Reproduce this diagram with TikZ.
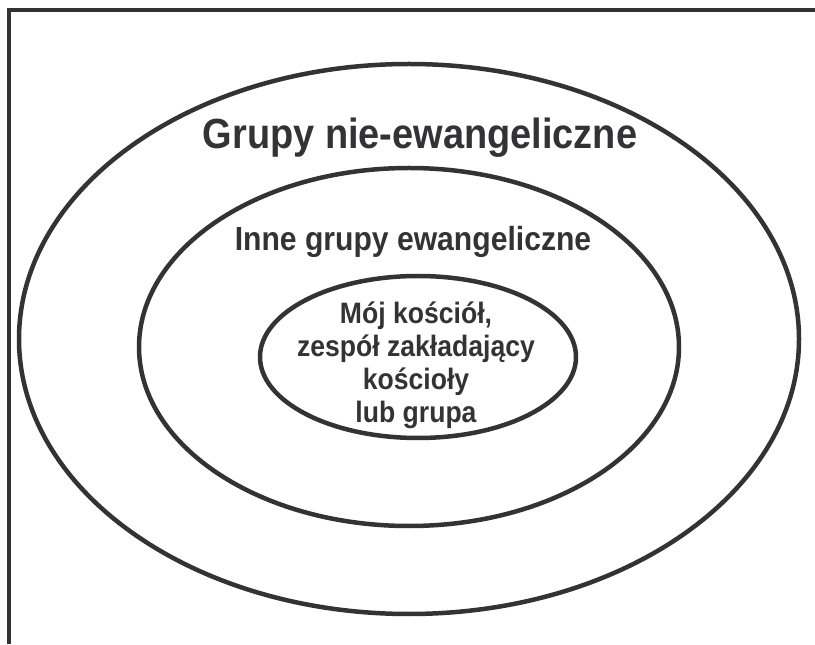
\documentclass[tikz,border=0pt]{standalone}
\usepackage{fontspec}
\setmainfont{Liberation Sans}
\newfontfamily\narrowsans[FakeStretch=0.9]{Liberation Sans}
\definecolor{ink}{HTML}{333336}
\tikzset{
  ring/.style={draw=ink, line width=3.2pt},
  label/.style={text=ink, align=center}
}
\begin{document}
\begin{tikzpicture}
\useasboundingbox (0,0) rectangle (20.375,16.1);
\draw[ink, line width=2.5pt] (0.225,0) -- (0.225,15.85) -- (20.375,15.85);
\draw[ring] (10.225,7.625) ellipse [x radius=9.75, y radius=6.875];
\draw[ring] (10.225,7.425) ellipse [x radius=6.75, y radius=4.475];
\draw[ring] (10.45,7.175) ellipse [x radius=3.95, y radius=2.025];
\node[label, font=\narrowsans\fontsize{30}{36}\selectfont\bfseries] (outer) at (10.5,12.65) {Grupy nie-ewangeliczne};
\node[label, font=\narrowsans\fontsize{23.8}{28}\selectfont\bfseries] (middle) at (10.325,10.05) {Inne grupy ewangeliczne};
\node[label, font=\narrowsans\fontsize{21}{23.5}\selectfont\bfseries] (inner) at (10.4,6.975) {Mój kościół,\\zespół zakładający\\kościoły\\lub grupa};
\end{tikzpicture}
\end{document}
